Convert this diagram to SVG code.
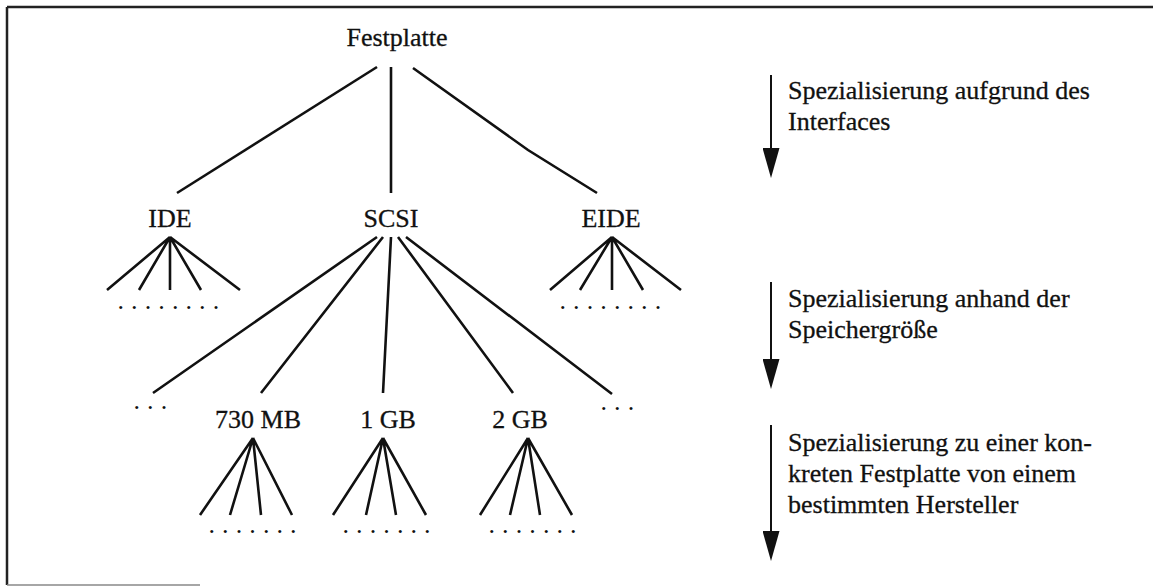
<svg xmlns="http://www.w3.org/2000/svg" width="1153" height="587" viewBox="0 0 1153 587">
<defs>
<style>
.t{font-family:"Liberation Serif","Times New Roman",serif;font-size:26px;fill:#111;stroke:#111;stroke-width:0.3}
.c{text-anchor:middle}
.d{font-family:"Liberation Serif","Times New Roman",serif;font-size:26px;fill:#111;letter-spacing:0.3px}
.ln{stroke:#111;stroke-width:2.6;fill:none;stroke-linecap:butt}
.ar{stroke:#111;stroke-width:2;fill:none}
.frame{stroke:#222;stroke-width:2.5;fill:none}
</style>
<marker id="ah" viewBox="0 0 30 17" refX="0" refY="8.5" markerWidth="30" markerHeight="17" markerUnits="userSpaceOnUse" orient="auto">
<path d="M0,0 L30,8.5 L0,17 Z" fill="#111"/>
</marker>
</defs>
<rect width="1153" height="587" fill="#fff"/>
<g id="frame">
<line class="frame" x1="7" y1="7" x2="1153" y2="7"/>
<line class="frame" x1="7" y1="7" x2="7" y2="585"/>
<line x1="7" y1="585" x2="200" y2="585" stroke="#888" stroke-width="1.5"/>
</g>
<g id="connectors">
<line class="ln" x1="377" y1="67" x2="177" y2="193"/>
<line class="ln" x1="391" y1="67" x2="391" y2="193"/>
<polyline class="ln" points="413,68 528,150 597,193"/>
<path class="ln" d="M170,237 L107,290 M170,237 L139,290 M170,237 L170,290 M170,237 L201,290 M170,237 L240,290"/>
<path class="ln" d="M612,237 L550,290 M612,237 L580,290 M612,237 L612,290 M612,237 L643,290 M612,237 L681,290"/>
<path class="ln" d="M377,237 L153,393 M383,237 L261,393 M391,237 L383,393 M398,237 L513,393 M406,237 L612,394"/>
<path class="ln" d="M253,438 L200,515 M253,438 L230,515 M253,438 L261,515 M253,438 L292,515"/>
<path class="ln" d="M383,438 L333,515 M383,438 L366,515 M383,438 L396,515 M383,438 L426,515"/>
<path class="ln" d="M528,438 L480,515 M528,438 L510,515 M528,438 L540,515 M528,438 L572,515"/>
</g>
<g id="n-festplatte"><text class="t c" x="397" y="46">Festplatte</text></g>
<g id="n-ide"><text class="t c" x="170" y="227">IDE</text></g>
<g id="n-scsi"><text class="t c" x="391" y="227">SCSI</text></g>
<g id="n-eide"><text class="t c" x="611" y="227">EIDE</text></g>
<g id="n-ide-more"><text class="d" x="117.5" y="309">. . . . . . . .</text></g>
<g id="n-eide-more"><text class="d" x="559.5" y="309">. . . . . . . .</text></g>
<g id="n-scsi-left"><text class="d" x="133.5" y="409" letter-spacing="0.8">. . .</text></g>
<g id="n-730"><text class="t c" x="258" y="428">730 MB</text></g>
<g id="n-1gb"><text class="t c" x="388" y="428">1 GB</text></g>
<g id="n-2gb"><text class="t c" x="520" y="428">2 GB</text></g>
<g id="n-scsi-right"><text class="d" x="600.5" y="410">. . .</text></g>
<g id="n-730-more"><text class="d" x="208.5" y="533">. . . . . . .</text></g>
<g id="n-1gb-more"><text class="d" x="342.5" y="533">. . . . . . .</text></g>
<g id="n-2gb-more"><text class="d" x="488.5" y="533">. . . . . . .</text></g>
<g id="legend1">
<line class="ar" x1="771" y1="75" x2="771" y2="148" marker-end="url(#ah)"/>
<text class="t" x="788" y="99">Spezialisierung aufgrund des</text>
<text class="t" x="788" y="130">Interfaces</text>
</g>
<g id="legend2">
<line class="ar" x1="771" y1="282" x2="771" y2="359" marker-end="url(#ah)"/>
<text class="t" x="788" y="307">Spezialisierung anhand der</text>
<text class="t" x="788" y="338">Speichergröße</text>
</g>
<g id="legend3">
<line class="ar" x1="771" y1="425" x2="771" y2="531" marker-end="url(#ah)"/>
<text class="t" x="788" y="451">Spezialisierung zu einer kon-</text>
<text class="t" x="788" y="482">kreten Festplatte von einem</text>
<text class="t" x="788" y="513">bestimmten Hersteller</text>
</g>
</svg>
